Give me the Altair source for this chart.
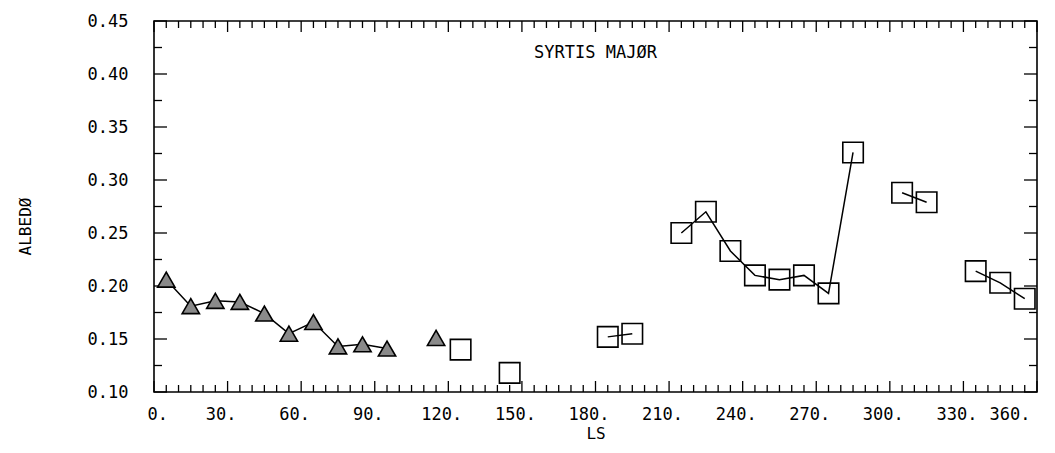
import altair as alt
import pandas as pd

# ---- data ----
tri_ls = [5, 15, 25, 35, 45, 55, 65, 75, 85, 95, 115]
tri_albedo = [0.206, 0.181, 0.186, 0.185, 0.174, 0.155, 0.166, 0.143, 0.145, 0.141, 0.151]
tri_seg = [1, 1, 1, 1, 1, 1, 1, 1, 1, 1, 2]

sq_ls = [125, 145, 185, 195, 215, 225, 235, 245, 255, 265, 275, 285, 305, 315, 335, 345, 355]
sq_albedo = [0.140, 0.118, 0.152, 0.155, 0.250, 0.270, 0.233, 0.210, 0.206, 0.210, 0.193,
             0.326, 0.288, 0.279, 0.214, 0.203, 0.188]
sq_seg = [3, 4, 5, 5, 6, 6, 6, 6, 6, 6, 6, 6, 7, 7, 8, 8, 8]

x_labels = [0, 30, 60, 90, 120, 150, 180, 210, 240, 270, 300, 330, 360]
y_labels = [0.10, 0.15, 0.20, 0.25, 0.30, 0.35, 0.40, 0.45]
x_minor = list(range(0, 361, 5))
y_minor = [round(0.10 + 0.025 * i, 3) for i in range(15)]

title_text = "SYRTIS MAJØR"
title_ls = [180]
title_albedo = [0.42]

W, H = 883, 371
FONT = "DejaVu Sans Mono"

tri = pd.DataFrame({"LS": tri_ls, "ALBEDO": tri_albedo, "seg": tri_seg})
sq = pd.DataFrame({"LS": sq_ls, "ALBEDO": sq_albedo, "seg": sq_seg})
lines = pd.concat([tri, sq], ignore_index=True)

xmaj = pd.DataFrame({"LS": [v for v in x_minor if v % 30 == 0]})
xmin = pd.DataFrame({"LS": [v for v in x_minor if v % 30 != 0]})
ymaj = pd.DataFrame({"ALBEDO": [v for v in y_minor if round(v * 1000) % 50 == 0]})
ymin = pd.DataFrame({"ALBEDO": [v for v in y_minor if round(v * 1000) % 50 != 0]})

xs = alt.Scale(domain=[0, 360], nice=False, zero=False)
ys = alt.Scale(domain=[0.10, 0.45], nice=False, zero=False)

x_axis = alt.Axis(values=x_labels, format="d", labelExpr="datum.label + '.'",
                  tickSize=0, domain=False, grid=False, labelPadding=14,
                  labelFont=FONT, labelFontSize=17, labelColor="black", labelOffset=-7,
                  title="LS", titleFont=FONT, titleFontSize=16, titleFontWeight="normal",
                  titleColor="black", titleY=41, titleBaseline="middle")
y_axis = alt.Axis(values=y_labels, format=".2f", tickSize=0, domain=False, grid=False,
                  labelPadding=26, labelFont=FONT, labelFontSize=17, labelColor="black",
                  title="ALBEDØ", titleFont=FONT, titleFontSize=16, titleFontWeight="normal",
                  titleColor="black", titleX=-129, titleY=205, titleAngle=270,
                  titleAlign="center", titleBaseline="middle")

X = alt.X("LS:Q", scale=xs, axis=x_axis)
Y = alt.Y("ALBEDO:Q", scale=ys, axis=y_axis)

line = alt.Chart(lines).mark_line(color="black", strokeWidth=1.5).encode(
    x=X, y=Y, detail="seg:N",
)

tri_pts = alt.Chart(tri).mark_point(shape="triangle-up", size=300, filled=True,
                                    fill="#8a8a8a", stroke="black", strokeWidth=1.6,
                                    opacity=1).encode(x=X, y=Y)

sq_pts = alt.Chart(sq).mark_point(shape="square", size=420, filled=False,
                                  stroke="black", strokeWidth=1.6, opacity=1).encode(x=X, y=Y)


def xticks(df, length):
    bot = alt.Chart(df).mark_rule(color="black", strokeWidth=1.3).encode(
        x=X, y=alt.value(H), y2=alt.value(H - length))
    top = alt.Chart(df).mark_rule(color="black", strokeWidth=1.3).encode(
        x=X, y=alt.value(0), y2=alt.value(length))
    return [bot, top]


def yticks(df, length):
    left = alt.Chart(df).mark_rule(color="black", strokeWidth=1.3).encode(
        y=Y, x=alt.value(0), x2=alt.value(length))
    right = alt.Chart(df).mark_rule(color="black", strokeWidth=1.3).encode(
        y=Y, x=alt.value(W), x2=alt.value(W - length))
    return [left, right]


tdf = pd.DataFrame({"LS": title_ls, "ALBEDO": title_albedo, "t": [title_text]})
title = alt.Chart(tdf).mark_text(font=FONT, fontSize=17, color="black").encode(
    x=X, y=Y, text="t:N",
)

layers = [line] + xticks(xmaj, 11) + xticks(xmin, 7) + yticks(ymaj, 13) + yticks(ymin, 8) + [
    tri_pts, sq_pts, title]

chart = alt.layer(*layers).properties(
    width=W, height=H,
    autosize=alt.AutoSizeParams(type="none"),
    padding={"left": 146, "top": 13, "right": 10, "bottom": 53},
    background="white",
).configure_view(stroke="black", strokeWidth=1.6)

chart.save("out.html", embed_options={"renderer": "svg", "actions": False})
